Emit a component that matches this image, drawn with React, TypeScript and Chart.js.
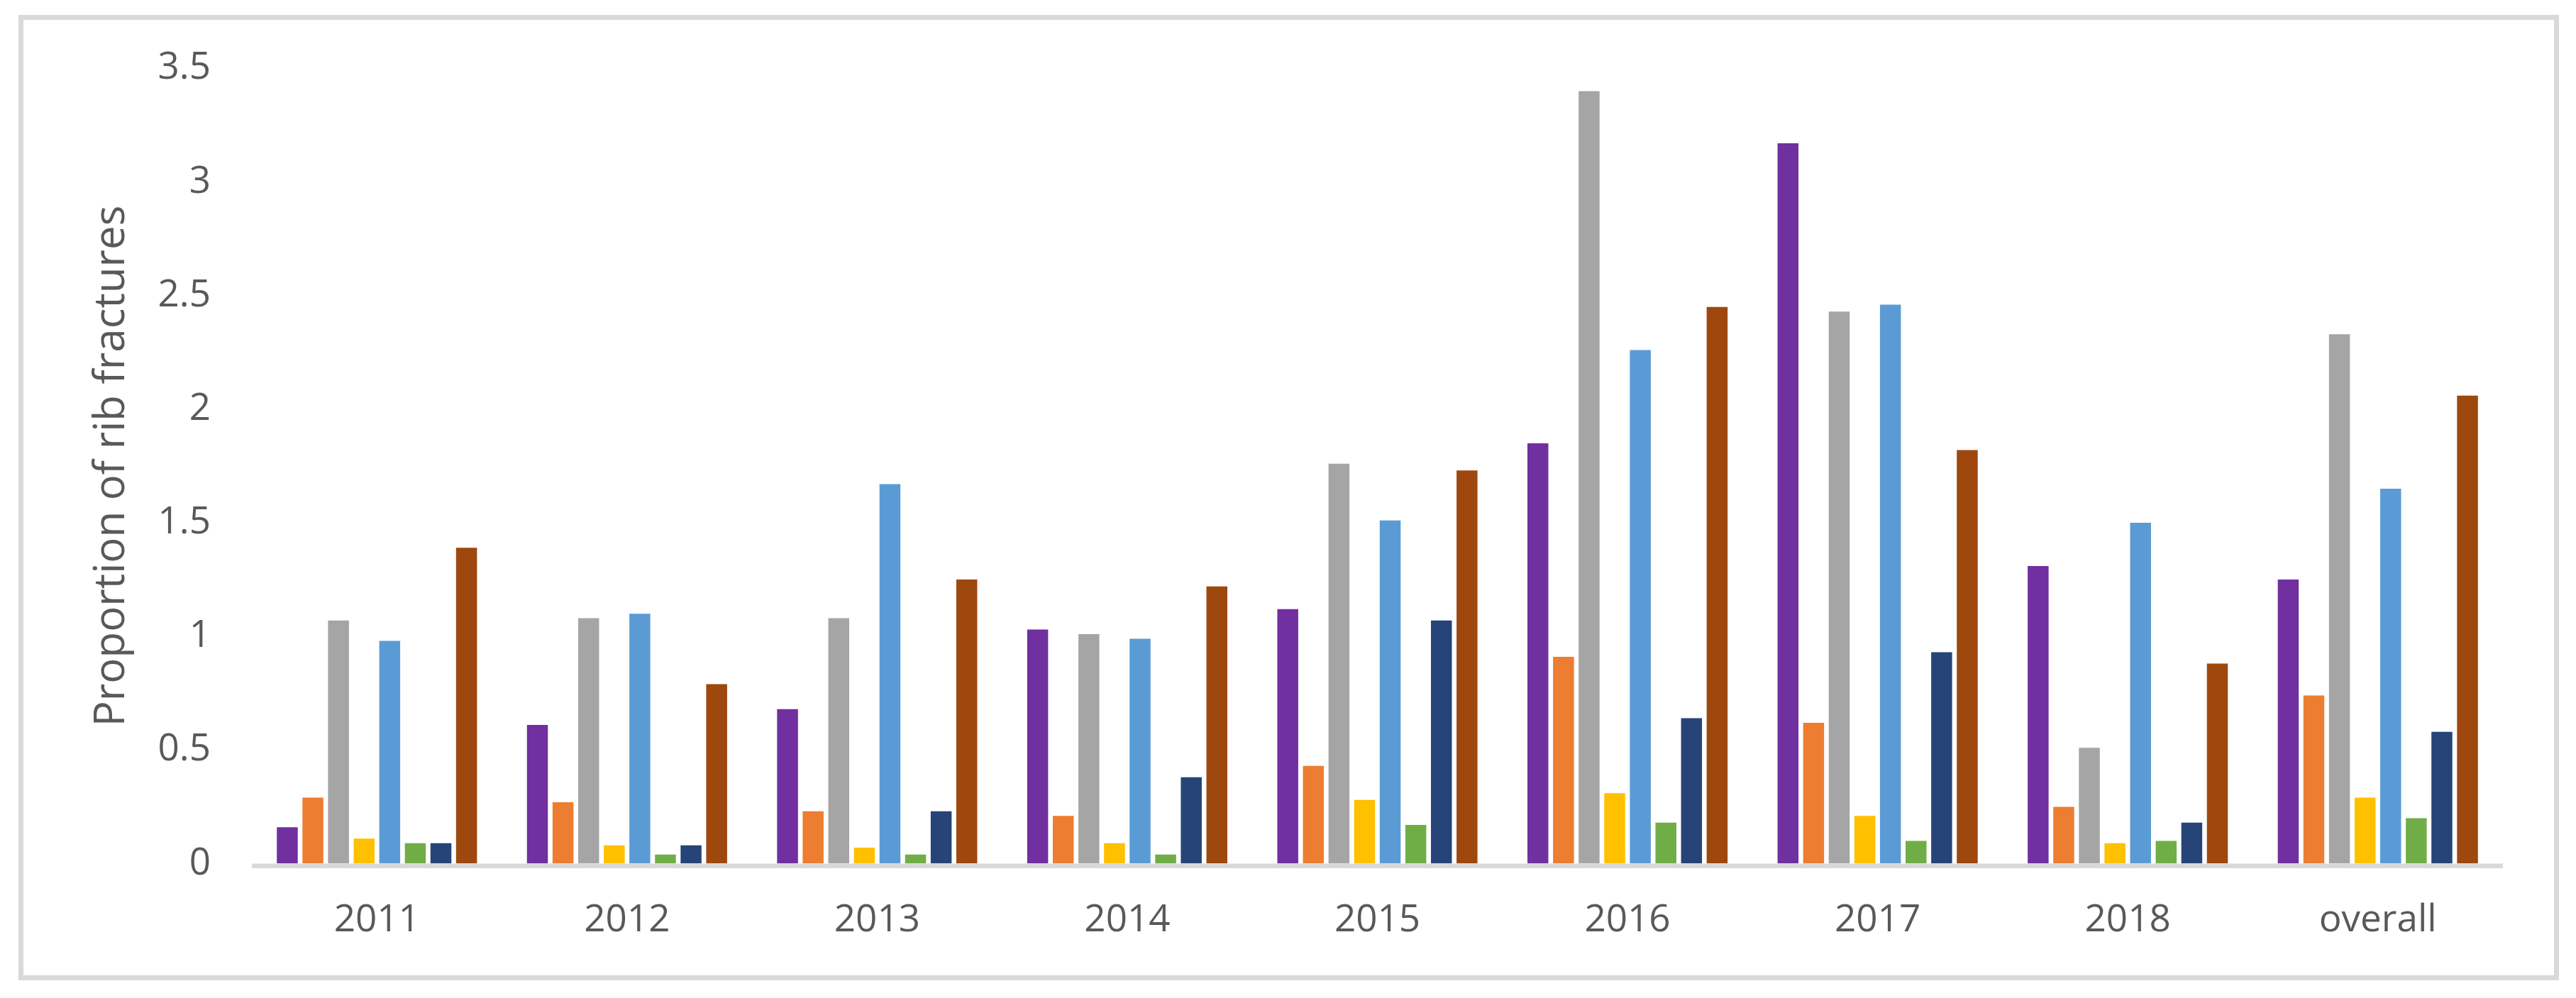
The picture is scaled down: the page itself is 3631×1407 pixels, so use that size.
import React, { useEffect, useRef } from "react";
import { Chart, registerables } from "chart.js";

Chart.register(...registerables);

const categories = ["2011", "2012", "2013", "2014", "2015", "2016", "2017", "2018", "overall"];

const seriesPurple = [0.16, 0.61, 0.68, 1.03, 1.12, 1.85, 3.17, 1.31, 1.25];
const seriesOrange = [0.29, 0.27, 0.23, 0.21, 0.43, 0.91, 0.62, 0.25, 0.74];
const seriesGray = [1.07, 1.08, 1.08, 1.01, 1.76, 3.4, 2.43, 0.51, 2.33];
const seriesYellow = [0.11, 0.08, 0.07, 0.09, 0.28, 0.31, 0.21, 0.09, 0.29];
const seriesBlue = [0.98, 1.1, 1.67, 0.99, 1.51, 2.26, 2.46, 1.5, 1.65];
const seriesGreen = [0.09, 0.04, 0.04, 0.04, 0.17, 0.18, 0.1, 0.1, 0.2];
const seriesNavy = [0.09, 0.08, 0.23, 0.38, 1.07, 0.64, 0.93, 0.18, 0.58];
const seriesBrown = [1.39, 0.79, 1.25, 1.22, 1.73, 2.45, 1.82, 0.88, 2.06];

const seriesNames = ["Series 1", "Series 2", "Series 3", "Series 4", "Series 5", "Series 6", "Series 7", "Series 8"];
const seriesColors = ["#7030A0", "#ED7D31", "#A5A5A5", "#FFC000", "#5B9BD5", "#70AD47", "#264478", "#9E480E"];

const yTickLabels = ["0", "0.5", "1", "1.5", "2", "2.5", "3", "3.5"];
const yTitle = "Proportion of rib fractures";

const W = 3631;
const H = 1407;

const frameAndAxis = {
  id: "frameAndAxis",
  beforeDraw(chart: any) {
    const ctx = chart.ctx;
    ctx.save();
    ctx.fillStyle = "#ffffff";
    ctx.fillRect(0, 0, chart.width, chart.height);
    ctx.strokeStyle = "#D9D9D9";
    ctx.lineWidth = 7;
    ctx.strokeRect(29.5, 24.5, 3574, 1354);
    ctx.restore();
  },
  afterDatasetsDraw(chart: any) {
    const { ctx, chartArea } = chart;
    ctx.save();
    ctx.fillStyle = "#D9D9D9";
    ctx.fillRect(chartArea.left, chartArea.bottom, chartArea.right - chartArea.left, 6.5);
    ctx.restore();
  },
};

export default function App() {
  const ref = useRef<HTMLCanvasElement | null>(null);

  useEffect(() => {
    if (!ref.current) return;
    const allSeries = [seriesPurple, seriesOrange, seriesGray, seriesYellow, seriesBlue, seriesGreen, seriesNavy, seriesBrown];
    const chart = new Chart(ref.current, {
      type: "bar",
      data: {
        labels: categories,
        datasets: allSeries.map((d, i) => ({
          label: seriesNames[i],
          data: d,
          backgroundColor: seriesColors[i],
          borderWidth: 0,
          categoryPercentage: 0.819,
          barPercentage: 0.817,
        })),
      },
      options: {
        responsive: false,
        animation: false,
        devicePixelRatio: 1,
        layout: { padding: { left: 0, right: 103, top: 96.4, bottom: 0 } },
        plugins: {
          legend: { display: false },
          tooltip: { enabled: false },
        },
        scales: {
          x: {
            grid: { display: false, drawTicks: false },
            border: { display: false },
            ticks: {
              color: "#595959",
              padding: 54,
              font: { family: "'Open Sans'", size: 53, lineHeight: 1 },
              maxRotation: 0,
              autoSkip: false,
            },
            afterFit(scale: any) {
              scale.height = 189.5;
            },
          },
          y: {
            min: 0,
            max: 3.5,
            grid: { display: false, drawTicks: false },
            border: { display: false },
            ticks: {
              stepSize: 0.5,
              color: "#595959",
              padding: 58,
              font: { family: "'Open Sans'", size: 53, lineHeight: 1 },
              callback: (_v: any, i: number) => yTickLabels[i],
            },
            title: {
              display: true,
              text: yTitle,
              color: "#595959",
              font: { family: "'Open Sans'", size: 60, lineHeight: 1 },
              padding: { top: 128, bottom: 0 },
            },
            afterFit(scale: any) {
              scale.width = 355;
            },
          },
        },
      },
      plugins: [frameAndAxis],
    });
    return () => chart.destroy();
  }, []);

  return (
    <div style={{ position: "absolute", left: 0, top: 0, width: W, height: H, background: "#fff" }}>
      <canvas ref={ref} width={W} height={H} style={{ display: "block", width: W, height: H }} />
    </div>
  );
}
